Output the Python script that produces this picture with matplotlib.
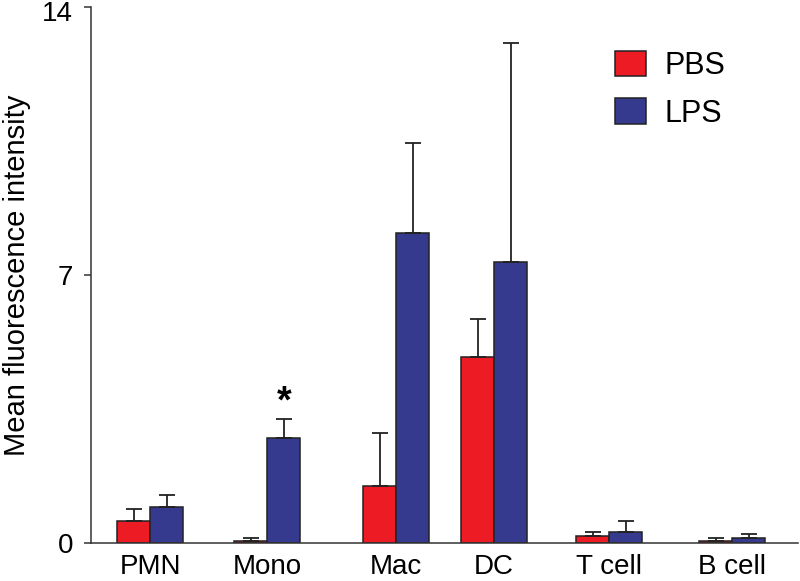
import matplotlib
matplotlib.use("Agg")
import matplotlib.pyplot as plt
import matplotlib.transforms as mtransforms
import numpy as np

plt.rcParams['font.family'] = ['Liberation Sans', 'DejaVu Sans']

cells = ['PMN', 'Mono', 'Mac', 'DC', 'T cell', 'B cell']
pbs_mean = [0.57, 0.04, 1.49, 4.86, 0.18, 0.05]
pbs_err = [0.32, 0.09, 1.38, 0.99, 0.10, 0.08]
lps_mean = [0.94, 2.74, 8.09, 7.34, 0.28, 0.13]
lps_err = [0.31, 0.50, 2.35, 5.71, 0.29, 0.10]
significant = [False, True, False, False, False, False]

# group centres (the original spacing is not even)
x = np.array([1.50, 2.67, 3.96, 4.94, 6.09, 7.32])
width = 0.33

red = '#ED1C24'
blue = '#353A8E'
edge = '#222222'

fig = plt.figure(figsize=(8, 5.81), dpi=100)
ax = fig.add_axes([0.114, 0.0654, 0.8835, 0.9226])

err_kw = dict(ecolor=edge, elinewidth=1.3, capsize=6, capthick=1.3)
ax.bar(x - width / 2, pbs_mean, width, color=red, edgecolor=edge, linewidth=1.1,
       yerr=[np.zeros(len(pbs_err)), pbs_err], error_kw=err_kw, label='PBS', zorder=2)
ax.bar(x + width / 2, lps_mean, width, color=blue, edgecolor=edge, linewidth=1.1,
       yerr=[np.zeros(len(lps_err)), lps_err], error_kw=err_kw, label='LPS', zorder=2)

for xi, m, e, s in zip(x, lps_mean, lps_err, significant):
    if s:
        ax.annotate('*', (xi + width / 2, m + e), xytext=(0, 12), textcoords='offset points',
                    ha='center', va='center', fontsize=27, fontweight='bold')

ax.set_xlim(0.91, 7.98)
ax.set_ylim(0, 14)
ax.set_yticks([0, 7, 14])
ax.set_xticks(x)
ax.set_xticklabels(cells)
ax.tick_params(axis='x', length=0, pad=8, labelsize=20)
ax.tick_params(axis='y', length=5, width=1.1, color='#333333', pad=8, labelsize=20)
ax.set_ylabel('Mean fluorescence intensity', fontsize=21, labelpad=8)

# top label sits a little lower so it stays inside the figure
top_lbl = ax.get_yticklabels()[-1]
top_lbl.set_transform(top_lbl.get_transform() +
                      mtransforms.ScaledTranslation(0, -3 / 72, fig.dpi_scale_trans))

for side in ['top', 'right']:
    ax.spines[side].set_visible(False)
for side in ['left', 'bottom']:
    ax.spines[side].set_color('#333333')
    ax.spines[side].set_linewidth(1.1)

ax.legend(loc='upper left', bbox_to_anchor=(0.769, 0.913), bbox_transform=fig.transFigure,
          frameon=False, fontsize=22, handlelength=1.0, handleheight=0.9,
          handletextpad=0.62, labelspacing=0.58, borderpad=0, borderaxespad=0)

fig.savefig('out.png', dpi=100)
